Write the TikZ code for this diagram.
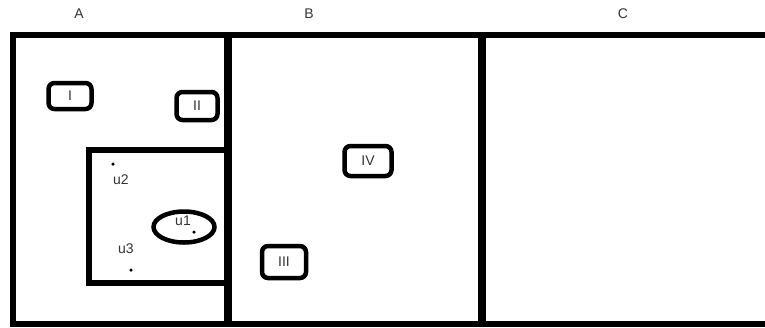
\documentclass[tikz,border=0pt]{standalone}
\usepackage{fontspec}
\setmainfont{Liberation Sans}
\usetikzlibrary{positioning}

\begin{document}
\begin{tikzpicture}[
    x=1pt, y=-1pt,
    font=\fontsize{14}{16}\selectfont,
    wall/.style={line width=6pt, draw=black},
    tag/.style={rectangle, rounded corners=6pt, draw=black, line width=4.5pt, inner sep=0pt, text=black!80},
    elem/.style={circle, fill=black, inner sep=0pt, minimum size=3.5pt},
    lbl/.style={text=black!80, inner sep=0pt},
]
\useasboundingbox (0,0) rectangle (765,327);

% regions
\node[lbl] (la) at (79,14)  {A};
\node[lbl] (lb) at (309,14) {B};
\node[lbl] (lc) at (623,14) {C};
\draw[wall] (765,34.5) -- (12.5,34.5) -- (12.5,324) -- (765,324);
\draw[wall, line width=8pt] (228,34.5) -- (228,324);
\draw[wall, line width=8pt] (482,34.5) -- (482,324);
\draw[wall] (228,149.5) -- (88.5,149.5) -- (88.5,283) -- (228,283);

% boxes
\node[tag, minimum width=43pt, minimum height=26pt] (b1) at (70,96)   {I};
\node[tag, minimum width=41pt, minimum height=28pt] (b2) at (197,106) {II};
\node[tag, minimum width=44pt, minimum height=32pt] (b3) at (284,262) {III};
\node[tag, minimum width=47pt, minimum height=30pt] (b4) at (368,161) {IV};

% elements
\draw[line width=4.5pt] (184,227) ellipse [x radius=30.5, y radius=15.5];
\node[elem] (u1) at (194,232) {};
\node[elem] (u2) at (113,164) {};
\node[elem] (u3) at (131,270) {};
\node[lbl] (tu1) at (183,221) {u1};
\node[lbl] (tu2) at (121,180) {u2};
\node[lbl] (tu3) at (126,249) {u3};
\end{tikzpicture}
\end{document}
